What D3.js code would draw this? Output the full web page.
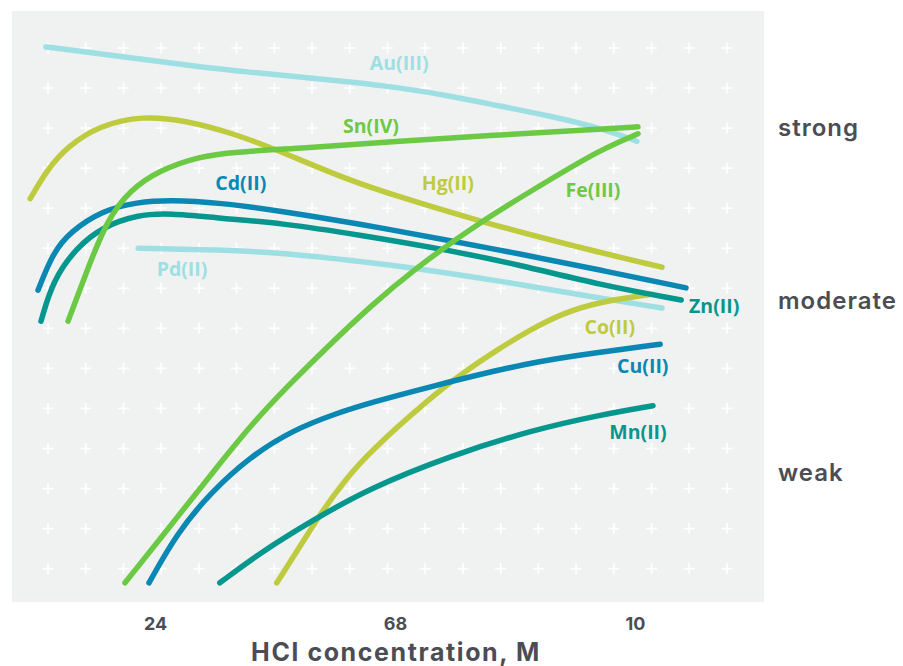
<!DOCTYPE html>
<html>
<head>
<meta charset="utf-8">
<script src="https://cdn.jsdelivr.net/npm/d3@7"></script>
<style>
  html, body { margin: 0; padding: 0; background: #ffffff; }
  svg { display: block; }
</style>
</head>
<body>
<svg id="chart" width="903" height="666"></svg>
<script>
// ---------- DATA ----------
const xTickValues = [2, 6, 10];
const xTickLabels = ["24", "68", "10"];
const xTitle = "HCl concentration, M";

const strengthValues = [8, 5, 2];
const strengthLabels = ["strong", "moderate", "weak"];

const seriesNames = ["Au(III)", "Sn(IV)", "Fe(III)", "Hg(II)", "Cd(II)", "Zn(II)", "Pd(II)", "Co(II)", "Cu(II)", "Mn(II)"];
const seriesColors = ["#9edfe4", "#6cc944", "#6cc944", "#bfcb3e", "#0a87b2", "#05968e", "#9edfe4", "#bfcb3e", "#0a87b2", "#05968e"];

const auX = [0.18, 1.08, 1.92, 2.75, 3.58, 4.42, 5.25, 6.08, 6.92, 7.75, 8.58, 9.42, 10.03];
const auY = [9.41, 9.29, 9.18, 9.06, 8.97, 8.89, 8.80, 8.70, 8.56, 8.38, 8.21, 8.00, 7.77];

const snX = [0.55, 0.87, 1.20, 1.58, 2.08, 2.75, 3.30, 4.42, 6.08, 7.75, 9.42, 10.05];
const snY = [4.64, 5.53, 6.40, 6.92, 7.27, 7.51, 7.58, 7.65, 7.77, 7.88, 7.98, 8.02];

const feX = [1.50, 2.37, 3.03, 3.63, 4.20, 4.87, 5.58, 6.30, 7.42, 8.58, 9.42, 10.05];
const feY = [0.09, 1.23, 2.10, 2.87, 3.50, 4.19, 4.89, 5.53, 6.37, 7.10, 7.62, 7.90];

const hgX = [-0.08, 0.20, 0.53, 1.08, 1.80, 2.47, 3.30, 4.03, 5.20, 6.08, 7.42, 9.42, 10.45];
const hgY = [6.77, 7.27, 7.67, 8.05, 8.21, 8.14, 7.91, 7.62, 7.10, 6.80, 6.37, 5.83, 5.58];

const cdX = [0.05, 0.30, 0.58, 1.13, 1.70, 2.25, 3.08, 4.08, 5.42, 6.87, 8.08, 9.42, 10.85];
const cdY = [5.18, 5.83, 6.19, 6.57, 6.71, 6.75, 6.70, 6.56, 6.33, 6.05, 5.81, 5.53, 5.22];

const znX = [0.10, 0.30, 0.70, 1.13, 1.70, 2.25, 3.08, 4.08, 5.42, 6.87, 8.08, 9.42, 10.77];
const znY = [4.64, 5.36, 5.93, 6.28, 6.49, 6.52, 6.43, 6.35, 6.14, 5.88, 5.62, 5.27, 5.01];

const pdX = [1.72, 3.08, 4.08, 5.25, 6.30, 7.75, 9.42, 10.45];
const pdY = [5.91, 5.88, 5.83, 5.70, 5.57, 5.34, 5.04, 4.87];

const coX = [4.03, 4.42, 4.80, 5.17, 5.58, 6.58, 7.13, 7.70, 8.25, 8.80, 9.37, 10.28];
const coY = [0.09, 0.73, 1.36, 1.88, 2.37, 3.30, 3.74, 4.14, 4.49, 4.78, 4.97, 5.11];

const cuX = [1.90, 2.37, 2.92, 3.58, 4.30, 5.03, 5.58, 6.58, 8.25, 9.42, 10.42];
const cuY = [0.09, 0.96, 1.65, 2.28, 2.75, 3.04, 3.22, 3.50, 3.93, 4.10, 4.24];

const mnX = [3.08, 3.75, 4.58, 5.58, 6.92, 8.30, 9.42, 10.30];
const mnY = [0.09, 0.61, 1.15, 1.74, 2.30, 2.75, 3.01, 3.17];

const labelX = [6.07, 5.60, 9.30, 6.88, 3.43, 11.32, 2.45, 9.58, 10.13, 10.05];
const labelY = [9.13, 8.03, 6.92, 7.04, 7.04, 4.90, 5.55, 4.54, 3.86, 2.71];

// ---------- LAYOUT ----------
const svg = d3.select("#chart");
const panel = { left: 12, right: 764, top: 11, bottom: 602 };
const textColor = "#4b4d54";

const x = d3.scaleLinear().domain([2, 10]).range([155, 635]);
const y = d3.scaleLinear().domain([0, 10]).range([588, 13]);

svg.append("rect")
  .attr("x", panel.left).attr("y", panel.top)
  .attr("width", panel.right - panel.left)
  .attr("height", panel.bottom - panel.top)
  .attr("fill", "#f0f2f1");

// plus-sign texture
const colsPx = d3.range(19).map(i => 48 + i * 37.72);
const rowsPx = d3.range(14).map(i => 48 + i * 40.05);
const plusG = svg.append("g").attr("stroke", "#ffffff").attr("stroke-width", 1.6);
rowsPx.forEach(ry => colsPx.forEach(cx => {
  plusG.append("line").attr("x1", cx - 5.5).attr("x2", cx + 5.5).attr("y1", ry).attr("y2", ry);
  plusG.append("line").attr("x1", cx).attr("x2", cx).attr("y1", ry - 5.5).attr("y2", ry + 5.5);
}));

// series
const seriesX = [auX, snX, feX, hgX, cdX, znX, pdX, coX, cuX, mnX];
const seriesY = [auY, snY, feY, hgY, cdY, znY, pdY, coY, cuY, mnY];
const drawOrder = [0, 6, 3, 7, 4, 5, 8, 9, 1, 2];

const line = d3.line()
  .x(d => x(d[0]))
  .y(d => y(d[1]))
  .curve(d3.curveBasis);

const linesG = svg.append("g");
drawOrder.forEach(i => {
  const pts = seriesX[i].map((v, k) => [v, seriesY[i][k]]);
  linesG.append("path")
    .attr("d", line(pts))
    .attr("fill", "none")
    .attr("stroke", seriesColors[i])
    .attr("stroke-width", 5.5)
    .attr("stroke-linecap", "round")
    .attr("stroke-linejoin", "round");
});

// series labels
const lblG = svg.append("g")
  .attr("font-family", "'Open Sans', sans-serif")
  .attr("font-weight", 700)
  .attr("font-size", 19.5)
  .attr("text-anchor", "middle");
seriesNames.forEach((n, i) => {
  lblG.append("text")
    .attr("x", x(labelX[i]))
    .attr("y", y(labelY[i]))
    .attr("dy", "0.35em")
    .attr("fill", seriesColors[i])
    .text(n);
});

// x axis (no domain line, no ticks)
const xAxis = d3.axisBottom(x)
  .tickValues(xTickValues)
  .tickFormat((d, i) => xTickLabels[i])
  .tickSize(0)
  .tickPadding(0);
const xg = svg.append("g").attr("transform", `translate(0, 624)`).call(xAxis);
xg.select(".domain").remove();
xg.selectAll("text")
  .attr("dy", "0.35em")
  .attr("fill", textColor)
  .attr("font-family", "Inter, sans-serif")
  .attr("font-weight", 700)
  .attr("font-size", 18);

svg.append("text")
  .attr("x", 396).attr("y", 661)
  .attr("text-anchor", "middle")
  .attr("fill", textColor)
  .attr("font-family", "Inter, sans-serif")
  .attr("font-weight", 700)
  .attr("font-size", 25)
  .attr("letter-spacing", 1.6)
  .text(xTitle);

// strength axis on the right
const yAxis = d3.axisRight(y)
  .tickValues(strengthValues)
  .tickFormat((d, i) => strengthLabels[i])
  .tickSize(0)
  .tickPadding(0);
const yg = svg.append("g").attr("transform", `translate(778, 0)`).call(yAxis);
yg.select(".domain").remove();
yg.selectAll("text")
  .attr("fill", textColor)
  .attr("font-family", "Inter, sans-serif")
  .attr("font-weight", 600)
  .attr("font-size", 24)
  .attr("letter-spacing", 1);
</script>
</body>
</html>
